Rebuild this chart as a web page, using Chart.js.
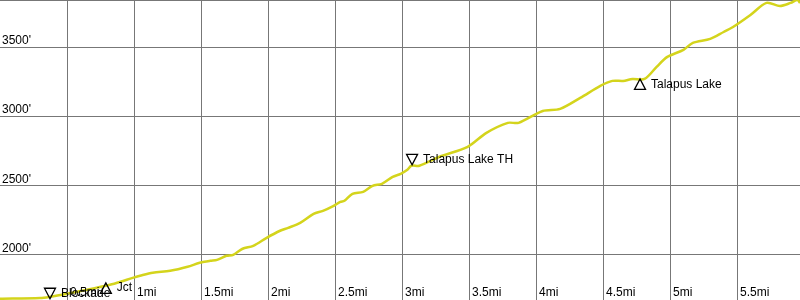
<!DOCTYPE html>
<html lang="en">

<head>
    <meta charset="UTF-8">
    <title>Talapus Lake Elevation Profile</title>
    <script src="https://cdn.jsdelivr.net/npm/chart.js"></script>
    <style>
        body { margin: 0; background: #fff; }
        #profileChart { display: block; }
    </style>
</head>

<body>
    <canvas id="profileChart" width="800" height="300"></canvas>

    <script>
        // distance along the trail (miles) and elevation (feet)
        const miles = [0, 0.30, 0.373, 0.50, 0.65, 0.82, 0.90, 0.99, 1.045, 1.14, 1.27, 1.40, 1.49, 1.57, 1.62,
            1.69, 1.74, 1.81, 1.89, 1.99, 2.09, 2.15, 2.24, 2.34, 2.41, 2.49, 2.54, 2.57, 2.63, 2.71, 2.78,
            2.85, 2.93, 2.99, 3.04, 3.07, 3.13, 3.28, 3.49, 3.63, 3.79, 3.87, 4.05, 4.18, 4.33, 4.48, 4.57,
            4.65, 4.72, 4.81, 4.90, 4.98, 5.10, 5.17, 5.30, 5.40, 5.47, 5.60, 5.72, 5.82, 5.90, 5.95, 5.97];
        const elevation = [1684, 1689, 1698, 1720, 1749, 1785, 1807, 1835, 1850, 1872, 1886, 1915, 1944, 1958, 1965,
            1994, 2001, 2045, 2066, 2124, 2175, 2196, 2232, 2297, 2319, 2355, 2384, 2391, 2442, 2456, 2499,
            2514, 2564, 2586, 2615, 2644, 2644, 2709, 2781, 2882, 2954, 2954, 3040, 3055, 3134, 3221, 3257,
            3257, 3271, 3271, 3358, 3430, 3481, 3531, 3560, 3610, 3646, 3733, 3820, 3798, 3820, 3841, 3820];

        // waypoints
        const wpNames = ['Blockade', 'Jct', 'Talapus Lake TH', 'Talapus Lake'];
        const wpMiles = [0.373, 0.79, 3.075, 4.776];
        const wpElev = [1684, 1799, 2651, 3271];
        const wpDir = ['down', 'up', 'down', 'up'];

        // axis ticks
        const xTicks = [0.5, 1, 1.5, 2, 2.5, 3, 3.5, 4, 4.5, 5, 5.5];
        const xTickLabels = ['0.5mi', '1mi', '1.5mi', '2mi', '2.5mi', '3mi', '3.5mi', '4mi', '4.5mi', '5mi', '5.5mi'];
        const yTicks = [2000, 2500, 3000, 3500];
        const yTickLabels = ["2000'", "2500'", "3000'", "3500'"];

        const X_MIN = 0, X_MAX = 5.97;
        const Y_MIN = 1675, Y_MAX = 3841;

        const FONT = '12px "Liberation Sans", Arial, sans-serif';

        const labelPlugin = {
            id: 'labels',
            afterDatasetsDraw(chart) {
                const { ctx, scales: { x, y } } = chart;
                ctx.save();
                ctx.font = FONT;
                ctx.fillStyle = '#000';
                ctx.textBaseline = 'alphabetic';
                ctx.textAlign = 'left';
                yTicks.forEach((v, i) => {
                    ctx.fillText(yTickLabels[i], 2, y.getPixelForValue(v) - 3);
                });
                xTicks.forEach((v, i) => {
                    ctx.fillText(xTickLabels[i], x.getPixelForValue(v) + 3, chart.chartArea.bottom - 4);
                });

                // waypoint markers
                ctx.strokeStyle = '#000';
                ctx.lineWidth = 1.3;
                ctx.textBaseline = 'middle';
                wpNames.forEach((name, i) => {
                    const px = x.getPixelForValue(wpMiles[i]);
                    const py = y.getPixelForValue(wpElev[i]);
                    const h = wpDir[i] === 'down' ? -10.5 : 10.5;
                    ctx.beginPath();
                    ctx.moveTo(px, py);
                    ctx.lineTo(px - 5.5, py + h);
                    ctx.lineTo(px + 5.5, py + h);
                    ctx.closePath();
                    ctx.stroke();
                    ctx.fillText(name, px + 11, py + h / 2);
                });
                ctx.restore();
            }
        };

        const ctx = document.getElementById('profileChart').getContext('2d');
        const chart = new Chart(ctx, {
            type: 'line',
            data: {
                datasets: [{
                    label: 'Elevation',
                    data: miles.map((m, i) => ({ x: m, y: elevation[i] })),
                    borderColor: '#d4d41c',
                    borderWidth: 2.5,
                    pointRadius: 0,
                    tension: 0.3,
                    fill: false
                }]
            },
            options: {
                responsive: false,
                animation: false,
                layout: { padding: 0 },
                scales: {
                    x: {
                        type: 'linear',
                        min: X_MIN,
                        max: X_MAX,
                        afterBuildTicks: (scale) => { scale.ticks = xTicks.map(v => ({ value: v })); },
                        ticks: { display: false },
                        grid: { color: '#777', lineWidth: 1, drawTicks: false, tickLength: 0 },
                        border: { display: false }
                    },
                    y: {
                        min: Y_MIN,
                        max: Y_MAX,
                        afterBuildTicks: (scale) => {
                            scale.ticks = [Y_MIN].concat(yTicks, [Y_MAX]).map(v => ({ value: v }));
                        },
                        ticks: { display: false },
                        grid: { color: '#777', lineWidth: 1, drawTicks: false, tickLength: 0 },
                        border: { display: false }
                    }
                },
                plugins: {
                    legend: { display: false },
                    tooltip: { enabled: false }
                }
            },
            plugins: [labelPlugin]
        });
    </script>
</body>

</html>
